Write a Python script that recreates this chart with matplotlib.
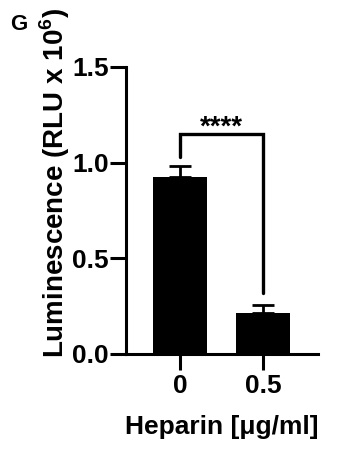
import matplotlib
matplotlib.use("Agg")
import matplotlib.pyplot as plt

categories = ["0", "0.5"]
means = [0.925, 0.215]
errors = [0.055, 0.04]
sig_label = "****"
bracket_y = 1.15
leg_bottoms = [1.03, 0.32]
yticks = [0.0, 0.5, 1.0, 1.5]

plt.rcParams['font.family'] = ['Liberation Sans', 'DejaVu Sans']
plt.rcParams['font.weight'] = 'bold'
plt.rcParams['mathtext.fontset'] = 'custom'
plt.rcParams['mathtext.bf'] = 'Liberation Sans:bold'

fig = plt.figure(figsize=(3.58, 4.59), dpi=100)
ax = fig.add_axes([0.352, 0.2288, 0.536, 0.6253])

x = list(range(len(categories)))
ax.bar(x, means, width=0.66, color='black', zorder=2)
ax.errorbar(x, means, yerr=[[0]*len(errors), errors], fmt='none', ecolor='black',
            elinewidth=2.0, capsize=8, capthick=2.0, zorder=3)

# significance bracket
ax.plot([x[0], x[0], x[1], x[1]], [leg_bottoms[0], bracket_y, bracket_y, leg_bottoms[1]],
        color='black', lw=2.4, solid_capstyle='round', solid_joinstyle='miter', zorder=3)
ax.text((x[0]+x[1])/2, bracket_y - 0.035, sig_label, ha='center', va='bottom',
        fontsize=20, fontweight='bold')

ax.set_xlim(-0.65, 1.66)
ax.set_ylim(0, 1.5)
ax.set_yticks(yticks)
ax.set_yticklabels([f"{v:.1f}" for v in yticks])
ax.set_xticks(x)
ax.set_xticklabels(categories)

for s in ['top', 'right']:
    ax.spines[s].set_visible(False)
for s in ['left', 'bottom']:
    ax.spines[s].set_linewidth(2.2)
ax.tick_params(axis='both', width=2.2, length=11.5, labelsize=19)
ax.tick_params(axis='y', pad=1)
ax.tick_params(axis='x', pad=3)
for lab in ax.get_xticklabels() + ax.get_yticklabels():
    lab.set_fontweight('bold')

ax.set_ylabel("Luminescence (RLU x 10$^\\mathbf{6}$)", fontsize=20, fontweight='bold')
ax.yaxis.set_label_coords(-0.28, 0.596)
ax.set_xlabel("Heparin [μg/ml]", fontsize=19, fontweight='bold', labelpad=12)

fig.text(0.028, 0.97, "G", fontsize=16, fontweight='bold', va='top', ha='left')

fig.savefig("out.png", dpi=100)
